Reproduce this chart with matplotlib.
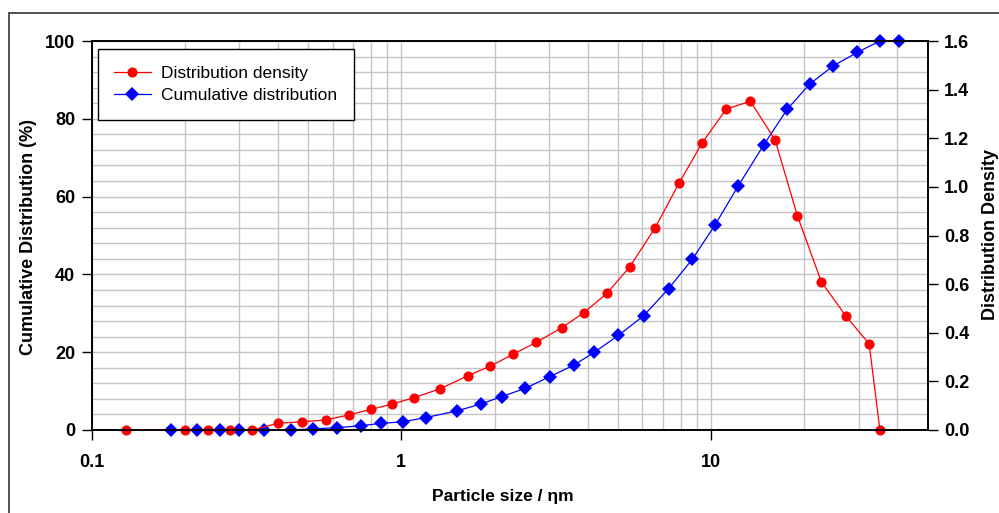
import matplotlib
matplotlib.use("Agg")
import matplotlib.pyplot as plt
from matplotlib.lines import Line2D
from matplotlib.patches import Rectangle
from matplotlib.ticker import FixedLocator, MultipleLocator, NullFormatter, FuncFormatter

plt.rcParams['font.family'] = ['Liberation Sans', 'DejaVu Sans']

# distribution density (right axis) vs particle size
size_density = [0.129, 0.200, 0.237, 0.279, 0.330, 0.400, 0.479, 0.569, 0.676, 0.80,
                0.93, 1.10, 1.33, 1.64, 1.94, 2.29, 2.73, 3.30, 3.88, 4.61,
                5.47, 6.60, 7.88, 9.37, 11.2, 13.4, 16.1, 19.0, 22.7, 27.2,
                32.4, 35.1]
density = [0, 0, 0, 0, 0, 0.028, 0.034, 0.041, 0.062, 0.085,
           0.106, 0.133, 0.169, 0.223, 0.263, 0.311, 0.361, 0.421, 0.482, 0.562,
           0.672, 0.832, 1.015, 1.182, 1.320, 1.352, 1.193, 0.881, 0.610, 0.470,
           0.354, 0]

# cumulative distribution (left axis, %) - first point lies left of the axis
size_cum = [0.08, 0.18, 0.219, 0.26, 0.30, 0.36, 0.44, 0.52, 0.62, 0.74,
            0.86, 1.01, 1.20, 1.51, 1.81, 2.11, 2.51, 3.01, 3.61, 4.20,
            5.02, 6.06, 7.29, 8.70, 10.3, 12.25, 14.8, 17.6, 20.8, 24.8,
            29.7, 35.1, 40.6]
cumulative = [0, 0, 0, 0, 0, 0, 0, 0.3, 0.6, 1.1,
              1.7, 2.1, 3.2, 4.9, 6.7, 8.6, 10.7, 13.7, 16.7, 20.0,
              24.3, 29.4, 36.3, 43.9, 52.7, 62.8, 73.3, 82.4, 88.9, 93.6,
              97.1, 100, 100]

x_ticks = [0.1, 1, 10]
x_ticklabels = ['0.1', '1', '10']

RED = '#ff0000'
BLUE = '#0000ff'

fig = plt.figure(figsize=(9.99, 5.13), dpi=100)
fig.subplots_adjust(left=91.7/999, right=927.5/999, top=1-41/513, bottom=1-430/513)
ax = fig.add_subplot(111)
ax2 = ax.twinx()

ax.set_xscale('log')
ax.set_xlim(0.1, 50)
ax.set_ylim(0, 100)
ax2.set_ylim(0, 1.6)

ax.xaxis.set_major_locator(FixedLocator(x_ticks))
ax.xaxis.set_major_formatter(FuncFormatter(lambda v, p: x_ticklabels[x_ticks.index(v)] if v in x_ticks else ''))
ax.xaxis.set_minor_locator(FixedLocator([m * d for d in (0.1, 1, 10) for m in range(2, 10) if m * d < 50]))
ax.xaxis.set_minor_formatter(NullFormatter())
ax.yaxis.set_major_locator(MultipleLocator(20))
ax.yaxis.set_minor_locator(MultipleLocator(4))
ax2.yaxis.set_major_locator(MultipleLocator(0.2))
ax2.yaxis.set_major_formatter(FuncFormatter(lambda v, p: '%.1f' % v))

ax.grid(True, which='both', color='#c4c4c4', lw=1.0)
ax.set_axisbelow(True)

ax.tick_params(axis='both', which='major', direction='out', length=7, width=1,
               labelsize=13, color='black')
ax.tick_params(axis='x', which='major', pad=10)
ax.tick_params(axis='y', which='major', pad=5)
ax.tick_params(which='minor', length=0)
ax2.tick_params(axis='y', direction='out', length=7, width=1, labelsize=13, pad=5)
for t in ax.get_xticklabels() + ax.get_yticklabels() + ax2.get_yticklabels():
    t.set_fontweight('bold')

for a in (ax, ax2):
    for s in a.spines.values():
        s.set_color('black')
        s.set_linewidth(1.2)

# lines clipped to the plot area, markers drawn whole on the axis edges
ax.plot(size_cum, cumulative, color=BLUE, lw=0.9)
ax.plot(size_cum[1:], cumulative[1:], ls='none', marker='D', markersize=7.5,
        markeredgewidth=0, color=BLUE, clip_on=False)
ax2.plot(size_density, density, color=RED, lw=0.9)
ax2.plot(size_density, density, ls='none', marker='o', markersize=7.3,
         markeredgewidth=0, color=RED, clip_on=False)

handles = [Line2D([], [], color=RED, lw=0.9, marker='o', markersize=7.3, markeredgewidth=0),
           Line2D([], [], color=BLUE, lw=0.9, marker='D', markersize=7.5, markeredgewidth=0)]
leg = ax2.legend(handles, ['Distribution density', 'Cumulative distribution'],
                 loc='upper left', bbox_to_anchor=(0.0072, 0.979),
                 borderaxespad=0, fancybox=False, framealpha=1, edgecolor='black',
                 fontsize=12.5, handlelength=2.1, handletextpad=0.6, borderpad=0.95,
                 labelspacing=0.42)
leg.get_frame().set_linewidth(1.0)

fig.text(20/999, 1-237/513, 'Cumulative Distribution (%)', rotation=90, ha='left',
         va='center', fontsize=13, fontweight='bold')
fig.text(982/999, 1-234/513, 'Distribution Density', rotation=90, ha='left',
         va='center', fontsize=13, fontweight='bold')
fig.text(503/999, 1-497/513, 'Particle size / \u03b7m', ha='center', va='center',
         fontsize=12.5, fontweight='bold')

fig.add_artist(Rectangle((9/999, -0.05), 1.2, (513-13)/513 + 0.05, transform=fig.transFigure,
                         fill=False, edgecolor='#333333', lw=1.2))

fig.savefig('out.png', dpi=100)
